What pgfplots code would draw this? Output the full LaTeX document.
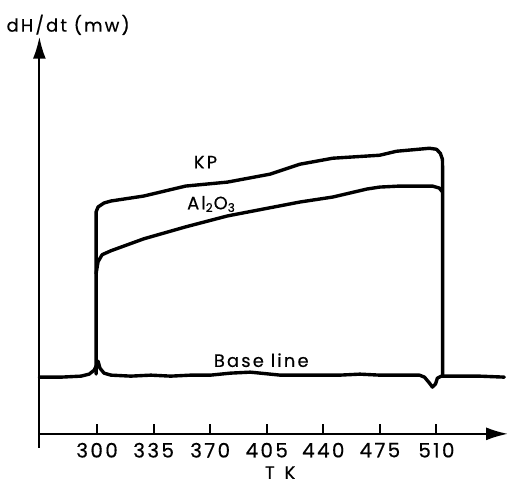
\documentclass[border=0pt]{standalone}
\usepackage{pgfplots}
\pgfplotsset{compat=1.18}
\usepackage{fontspec}
\setmainfont{Poppins}[LetterSpace=12, FakeBold=0.4]
\usetikzlibrary{arrows.meta}
\begin{document}
\begin{tikzpicture}
\begin{axis}[
  x=0.812pt, y=0.5pt,
  xmin=264.3, xmax=554.3, ymin=-14, ymax=399,
  axis x line=middle, axis y line=left,
  axis line style={line width=1pt, -{Latex[length=11pt,width=6.5pt]}},
  clip=false,
  xtick={300,335,370,405,440,475,510},
  ytick=\empty,
  tick align=inside,
  major tick length=5pt,
  tick style={line width=1pt, black},
  xticklabel style={font=\fontsize{10}{12}\selectfont, yshift=-1pt},
  /pgf/number format/assume math mode=true,
]
\path (axis cs:240.9,-46) rectangle (axis cs:554.3,436);
% Base line
\addplot[black, no markers, line width=1.7pt, line join=round, line cap=round] coordinates {(264.3,57)(277.8,57)(290.1,58)(295.1,60)(298.2,64)(300,70)(300.6,73)(301.8,66)(304.3,61)(308.6,59)(320.9,58)(333.3,59)(345.6,58)(357.9,59)(370.2,59)(382.5,61)(394.8,62)(401.0,61)(413.3,59)(425.6,59)(437.9,59)(450.2,59)(462.6,60)(474.9,59)(487.2,59)(499.5,59)(502.6,57)(505.7,51)(507.5,47)(509.4,50)(510.6,56)(513.1,58)(524.1,58)(536.5,58)(552,57)};
% KP
\addplot[black, no markers, line width=1.7pt, line join=round, line cap=round] coordinates {(299.4,60)(299.4,223)(300.6,228)(304.3,232)(308.6,234)(328.9,239)(354.8,249)(380.7,253)(407.1,261)(425.6,271)(445.9,277)(474.9,280)(485.3,284)(505.7,287)(510,286)(512.4,282)(513.7,276)(513.8,269)(513.8,58)};
% Al2O3
\addplot[black, no markers, line width=1.7pt, line join=round, line cap=round] coordinates {(299.4,161)(300.6,173)(303.1,180)(308.6,184)(328.9,196)(354.8,208)(380.7,219)(425.6,233)(445.9,238)(466.9,246)(474.9,248)(487.2,249)(507.5,249)(511.8,247)(513.8,243)};
\node[font=\small] at (axis cs:367.1,273) {KP};
\node[font=\small] at (axis cs:370.8,231) {Al\textsubscript{2}O\textsubscript{3}};
\node[font=\small] at (axis cs:401.6,74) {Base line};
\node[font=\small] at (axis cs:413.3,-39) {T\, K};
\node[font=\small] at (axis cs:282.1,411) {dH/dt (mw)};
\end{axis}
\end{tikzpicture}
\end{document}
